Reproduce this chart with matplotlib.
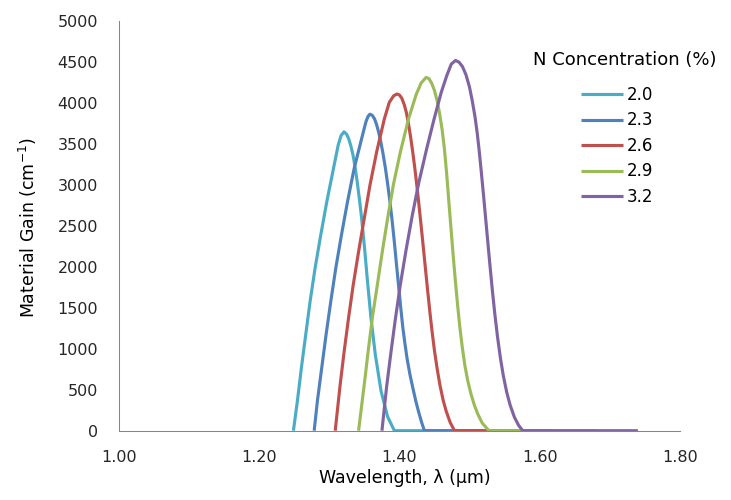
import matplotlib
matplotlib.use('Agg')
import matplotlib.pyplot as plt

# wavelength (um) and material gain (cm^-1), one pair per N concentration
wl_20 = [1.249, 1.2548, 1.2605, 1.2667, 1.2729, 1.2800, 1.2881, 1.2967, 1.3062, 1.3129, 1.3170, 1.3212, 1.3250,
         1.3280, 1.3310, 1.3340, 1.3370, 1.3400, 1.3430, 1.3460, 1.3505, 1.3545, 1.3595, 1.3657, 1.3740, 1.3833,
         1.3929, 1.52]
g_20 = [0, 370, 775, 1180, 1584, 1988, 2393, 2797, 3202, 3485, 3600, 3645, 3613,
        3555, 3470, 3360, 3210, 3030, 2830, 2610, 2220, 1830, 1380, 930, 480, 170,
        0, 0]

wl_23 = [1.2786, 1.2833, 1.2895, 1.2957, 1.3024, 1.3095, 1.3176, 1.3262, 1.3357, 1.3452, 1.3524, 1.3555, 1.3581,
         1.3615, 1.3645, 1.3675, 1.3705, 1.3735, 1.3765, 1.3800, 1.3833, 1.3865, 1.3895, 1.3930, 1.3960, 1.3990,
         1.4020, 1.4050, 1.4080, 1.4110, 1.4150, 1.4190, 1.4235, 1.4276, 1.4320, 1.4357, 1.57]
g_23 = [0, 370, 775, 1180, 1584, 1988, 2393, 2797, 3202, 3526, 3768, 3835, 3860,
        3845, 3805, 3735, 3640, 3525, 3390, 3210, 3010, 2800, 2580, 2290, 2020, 1760,
        1500, 1255, 1060, 880, 690, 530, 360, 225, 95, 0, 0]

wl_26 = [1.3086, 1.3157, 1.3214, 1.3276, 1.3343, 1.3419, 1.3500, 1.3581, 1.3676, 1.3786, 1.3857, 1.3920, 1.3967,
         1.4000, 1.4035, 1.4070, 1.4100, 1.4130, 1.4160, 1.4190, 1.4220, 1.4250, 1.4280, 1.4310, 1.4343, 1.4375,
         1.4405, 1.4440, 1.4470, 1.4500, 1.4540, 1.4580, 1.4625, 1.4667, 1.4725, 1.4786, 1.62]
g_26 = [0, 566, 971, 1375, 1780, 2184, 2589, 2993, 3398, 3802, 4005, 4085, 4106,
        4095, 4055, 3975, 3880, 3745, 3585, 3405, 3205, 2985, 2750, 2505, 2225, 1950,
        1695, 1410, 1185, 980, 750, 550, 370, 240, 100, 0, 0]

wl_29 = [1.3419, 1.3505, 1.3560, 1.3619, 1.3690, 1.3760, 1.3835, 1.3915, 1.4015, 1.4130, 1.4240, 1.4310, 1.4381,
         1.4420, 1.4460, 1.4500, 1.4540, 1.4575, 1.4610, 1.4643, 1.4675, 1.4705, 1.4735, 1.4765, 1.4795, 1.4825,
         1.4860, 1.4895, 1.4935, 1.4975, 1.5020, 1.5070, 1.5120, 1.5180, 1.5276, 1.68]
g_29 = [0, 600, 1000, 1400, 1800, 2200, 2600, 3000, 3400, 3800, 4100, 4240, 4308,
        4295, 4240, 4150, 4020, 3860, 3670, 3430, 3130, 2800, 2480, 2160, 1860, 1580,
        1280, 1030, 790, 610, 450, 310, 200, 95, 0, 0]

wl_32 = [1.3752, 1.3819, 1.3881, 1.3943, 1.4014, 1.4095, 1.4181, 1.4276, 1.4390, 1.4495, 1.4595, 1.4676, 1.4740,
         1.4800, 1.4850, 1.4900, 1.4950, 1.5000, 1.5040, 1.5078, 1.5110, 1.5140, 1.5171, 1.5200, 1.5230, 1.5260,
         1.5290, 1.5326, 1.5360, 1.5400, 1.5440, 1.5480, 1.5530, 1.5580, 1.5640, 1.5700, 1.5760, 1.74]
g_32 = [0, 540, 960, 1360, 1780, 2200, 2610, 3020, 3440, 3800, 4120, 4330, 4470,
        4515, 4495, 4440, 4340, 4190, 4020, 3830, 3630, 3400, 3130, 2870, 2590, 2310,
        2030, 1710, 1430, 1140, 890, 680, 470, 310, 165, 65, 0, 0]

labels = ["2.0", "2.3", "2.6", "2.9", "3.2"]
colors = ["#4BACC6", "#4F81BD", "#C0504D", "#9BBB59", "#8064A2"]
series = [(wl_20, g_20), (wl_23, g_23), (wl_26, g_26), (wl_29, g_29), (wl_32, g_32)]

fig = plt.figure(figsize=(7.31, 5.00), dpi=100)
ax = fig.add_axes([0.1624, 0.1386, 0.9302 - 0.1624, 0.9586 - 0.1386])

for (x, y), lab, c in zip(series, labels, colors):
    ax.plot(x, y, color=c, lw=2.25, label=lab, solid_capstyle='butt', solid_joinstyle='round')

ax.set_xlim(1.0, 1.8)
ax.set_ylim(0, 5000)
ax.set_xticks([1.0, 1.2, 1.4, 1.6, 1.8])
ax.set_xticklabels(["1.00", "1.20", "1.40", "1.60", "1.80"])
ax.set_yticks(range(0, 5001, 500))

for s in ["top", "right"]:
    ax.spines[s].set_visible(False)
for s in ["left", "bottom"]:
    ax.spines[s].set_color("#868686")
    ax.spines[s].set_linewidth(0.75)

ax.tick_params(axis='x', length=0, pad=14, labelsize=11.5, colors="#262626")
ax.tick_params(axis='y', length=0, pad=15, labelsize=11.5, colors="#262626")

ax.set_xlabel("Wavelength, \u03bb (\u03bcm)", fontsize=12.5)
ax.set_ylabel("Material Gain (cm$^{-1}$)", fontsize=12.5)
ax.xaxis.set_label_coords(0.51, -0.093)
ax.yaxis.set_label_coords(-0.142, 0.495)

fig.text(625 / 731, 1 - 60 / 500, "N Concentration (%)", ha='center', va='center', fontsize=13)
ax.legend(loc='upper left', bbox_to_anchor=(581 / 731, 1 - 86 / 500), bbox_transform=fig.transFigure,
          frameon=False, fontsize=12, handlelength=2.5, handletextpad=0.25, labelspacing=0.45,
          borderpad=0, borderaxespad=0)

fig.savefig("out.png", dpi=100)
